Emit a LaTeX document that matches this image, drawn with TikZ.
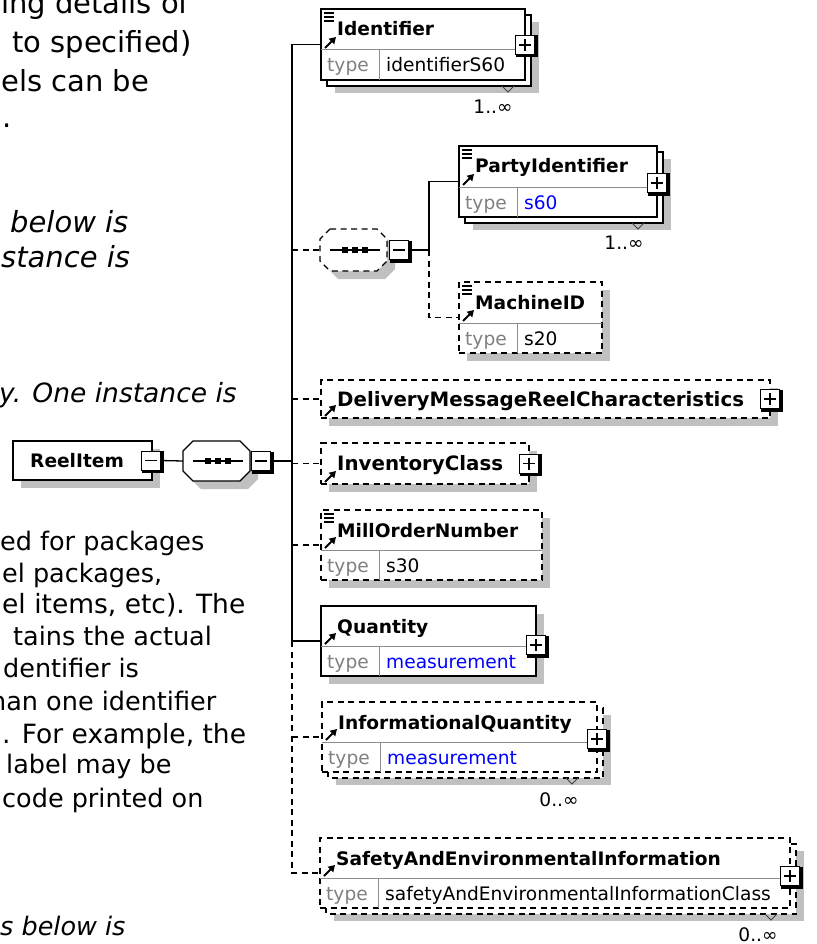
\documentclass[tikz,border=0pt]{standalone}
\usepackage{fontspec}
\setmainfont{DejaVu Sans}
\usetikzlibrary{arrows.meta,calc}
\definecolor{shadowgray}{RGB}{192,192,192}
\definecolor{divgray}{RGB}{140,140,140}
\definecolor{typegray}{RGB}{128,128,128}
\definecolor{valblue}{RGB}{0,0,255}
\newcommand{\dgfont}{\fontsize{18.6}{22}\selectfont}
\newcommand{\dgbold}{\fontsize{18.6}{22}\selectfont\bfseries}
\newcommand{\dgboldw}{\fontsize{19.8}{22}\selectfont\bfseries}
\newcommand{\ptA}{\fontsize{29}{34}\selectfont}
\newcommand{\ptB}{\fontsize{26.5}{30}\selectfont}
\newcommand{\ptC}{\fontsize{25.5}{30}\selectfont}
\tikzset{
  ebox/.style={draw=black, fill=white, line width=1.2pt, inner sep=0pt, outer sep=0pt},
  obox/.style={ebox, dash pattern=on 6pt off 4.5pt},
  conn/.style={line width=1.3pt},
  optc/.style={conn, dash pattern=on 6pt off 4.5pt},
  divl/.style={draw=divgray, line width=1pt},
  ttl/.style={font=\dgbold, anchor=base west, inner sep=0pt},
  tlab/.style={font=\dgfont, text=typegray, anchor=base west, inner sep=0pt},
  tval/.style={font=\dgfont, anchor=base west, inner sep=0pt},
  multl/.style={font=\dgfont, anchor=center, inner sep=0pt},
  ptxt/.style={anchor=base west, inner sep=0pt},
  pmb/.style={draw=black, fill=white, line width=1pt, minimum size=19pt, inner sep=0pt, outer sep=0pt},
  cmp/.style={minimum width=67pt, inner sep=0pt, outer sep=0pt},
  notchl/.style={draw=black!75, line width=0.9pt},
}
\newcommand{\PMbox}[3]{%
  \node[pmb] (#1) at (#2) {};
  \draw[line width=3pt] ($(#1.north east)+(1.5,0)$) -- ($(#1.south east)+(1.5,1.5)$) -- ($(#1.south west)+(0,1.5)$);
  \draw[line width=1.4pt] ($(#1.center)+(-6,0)$) -- ($(#1.center)+(6,0)$);
  \ifnum#3=1 \draw[line width=1.4pt] ($(#1.center)+(0,-6)$) -- ($(#1.center)+(0,6)$);\fi
}
\newcommand{\ElemBox}[7]{%
  \ifnum#7=1
    \fill[shadowgray] (#3+14,#4+13) rectangle ++(#5,#6);
    \draw[#2] (#3+6,#4+6) rectangle ++(#5,#6);
  \else
    \fill[shadowgray] (#3+8,#4+8) rectangle ++(#5,#6);
  \fi
  \node[#2, minimum width=#5, minimum height=#6, anchor=north west] (#1) at (#3,#4) {};
}
\newcommand{\DocIcon}[1]{%
  \foreach \dy in {4,8,12} \draw[line width=1.2pt] ($(#1.north west)+(3,\dy)$) -- ++(10,0);
}
\newcommand{\RefArrow}[2]{%
  \draw[line width=2pt, -{Triangle[length=6.5pt,width=7.5pt]}] ($(#1.north west)+(4,#2-2)$) -- ($(#1.north west)+(15,#2-13)$);
}
\newcommand{\TypeRow}[4]{%
  \draw[divl] ($(#1.north west)+(0,#2)$) -- ($(#1.north east)+(0,#2)$);
  \draw[divl] ($(#1.north west)+(58,#2)$) -- ($(#1.south west)+(58,0)$);
  \node[tlab] (#1ty) at ($(#1.south west)+(6,-8)$) {type};
  \node[tval, text=#4] (#1tv) at ($(#1.south west)+(65,-8)$) {#3};
}
\newcommand{\Notch}[2]{%
  \draw[notchl] ($(#1.south east)+(#2-6,6)$) -- ++(6,6) -- ++(6,-6);
}
\newcommand{\Octa}[4]{%
  \path[#2] ($(#1.north west)+(10+#3,#4)$) -- ($(#1.north east)+(-10+#3,#4)$) -- ($(#1.north east)+(#3,10+#4)$) -- ($(#1.south east)+(#3,-10+#4)$) -- ($(#1.south east)+(-10+#3,#4)$) -- ($(#1.south west)+(10+#3,#4)$) -- ($(#1.south west)+(#3,-10+#4)$) -- ($(#1.north west)+(#3,10+#4)$) -- cycle;
}
\newcommand{\SeqSym}[1]{%
  \draw[line width=1.3pt] ($(#1.center)+(-24,0)$) -- ($(#1.center)+(26,0)$);
  \foreach \sx in {-9,1,11} \fill ($(#1.center)+(\sx-3,-3)$) rectangle ++(6,6);
}
\begin{document}
\begin{tikzpicture}[x=1pt,y=-1pt]
\useasboundingbox (0,0) rectangle (816,944);
\clip (0,0) rectangle (816,944);

% ---------- left paragraph text ----------
\node[ptxt, font=\ptA] (p1) at (1,14) {ing details of};
\node[ptxt, font=\ptA] (p2) at (12,53) {to specified)};
\node[ptxt, font=\ptA] (p3) at (1,92) {els can be};
\node[ptxt, font=\ptA] (p4) at (2,128) {.};
\node[ptxt, font=\ptA\itshape] (p5) at (10,232) {below is};
\node[ptxt, font=\ptA\itshape] (p6) at (1,267) {stance is};
\node[ptxt, font=\ptB\itshape] (p7) at (-1,402) {y. One instance is};
\node[ptxt, font=\ptC] (p8) at (0,550) {ed for packages};
\node[ptxt, font=\ptC] (p9) at (2,582) {el packages,};
\node[ptxt, font=\ptB] (p10) at (2,613) {el items, etc). The};
\node[ptxt, font=\ptC] (p11) at (13,645) {tains the actual};
\node[ptxt, font=\ptC] (p12) at (3,677) {dentifier is};
\node[ptxt, font=\ptC] (p13) at (-10,710) {han one identifier};
\node[ptxt, font=\ptB] (p14) at (2,743) {. For example, the};
\node[ptxt, font=\ptC] (p15) at (6,773) {label may be};
\node[ptxt, font=\ptC] (p16) at (2,807) {code printed on};
\node[ptxt, font=\ptC\itshape] (p17) at (0,935) {s below is};

% ---------- ReelItem ----------
\fill[shadowgray] (21,449) rectangle ++(139,39);
\node[ebox, minimum width=139, minimum height=39, anchor=north west] (reel) at (13,441) {};
\node[ttl] (reelt) at (30,467) {ReelItem};
\PMbox{reelm}{$(reel.east)+(-1,0)$}{0}

% ---------- main sequence ----------
\node[cmp, minimum height=40pt] (seq) at (216.5,461) {};
\Octa{seq}{fill=shadowgray}{8}{8}
\Octa{seq}{draw=black, fill=white, line width=1.2pt}{0}{0}
\SeqSym{seq}
\PMbox{seqm}{$(seq.east)+(11,0)$}{0}
\draw[conn] (reelm.east) -- (seq.west);

% ---------- children ----------
\ElemBox{ident}{ebox}{321}{9}{204}{71}{1}
\DocIcon{ident}
\node[ttl] (identt) at ($(ident.north west)+(16,27)$) {Identifier};
\RefArrow{ident}{41}
\TypeRow{ident}{41}{identifierS60}{black}
\PMbox{identp}{$(ident.north east)+(0,36)$}{1}
\Notch{ident}{-17}
\node[multl] (identm) at ($(ident.south east)+(-32,27)$) {1..∞};

% nested sequence
\node[cmp, minimum height=42pt] (seqn) at (353.5,250) {};
\Octa{seqn}{fill=shadowgray}{8}{8}
\Octa{seqn}{draw=black, fill=white, line width=1.2pt, dash pattern=on 6pt off 4.5pt}{0}{0}
\SeqSym{seqn}
\PMbox{seqnm}{$(seqn.east)+(12,0)$}{0}

\ElemBox{party}{ebox}{459}{146}{198}{71}{1}
\DocIcon{party}
\node[ttl] (partyt) at ($(party.north west)+(16,27)$) {PartyIdentifier};
\RefArrow{party}{41}
\TypeRow{party}{41}{s60}{valblue}
\PMbox{partyp}{$(party.north east)+(0,37)$}{1}
\Notch{party}{-19}
\node[multl] (partym) at ($(party.south east)+(-33,26)$) {1..∞};

\ElemBox{machine}{obox}{459}{282}{143}{71}{0}
\DocIcon{machine}
\node[ttl] (machinet) at ($(machine.north west)+(16,27)$) {MachineID};
\RefArrow{machine}{41}
\TypeRow{machine}{41}{s20}{black}

\ElemBox{deliv}{obox}{321}{380}{449}{38}{0}
\node[ttl, font=\dgboldw] (delivt) at ($(deliv.west)+(16,7)$) {DeliveryMessageReelCharacteristics};
\RefArrow{deliv}{38}
\PMbox{delivp}{deliv.east}{1}

\ElemBox{inv}{obox}{321}{443}{208}{41}{0}
\node[ttl, font=\dgboldw] (invt) at ($(inv.west)+(16,7)$) {InventoryClass};
\RefArrow{inv}{41}
\PMbox{invp}{inv.east}{1}

\ElemBox{mill}{obox}{321}{510}{221}{70}{0}
\DocIcon{mill}
\node[ttl] (millt) at ($(mill.north west)+(16,27)$) {MillOrderNumber};
\RefArrow{mill}{40}
\TypeRow{mill}{40}{s30}{black}

\ElemBox{qty}{ebox}{321}{606}{215}{70}{0}
\node[ttl] (qtyt) at ($(qty.north west)+(16,27)$) {Quantity};
\RefArrow{qty}{40}
\TypeRow{qty}{40}{measurement}{valblue}
\PMbox{qtyp}{$(qty.north east)+(0,39)$}{1}

\ElemBox{infoq}{obox}{322}{702}{275}{70}{1}
\node[ttl] (infoqt) at ($(infoq.north west)+(16,27)$) {InformationalQuantity};
\RefArrow{infoq}{40}
\TypeRow{infoq}{40}{measurement}{valblue}
\PMbox{infoqp}{$(infoq.north east)+(0,37)$}{1}
\Notch{infoq}{-25}
\node[multl] (infoqm) at ($(infoq.south east)+(-38,28)$) {0..∞};

\ElemBox{safety}{obox}{320}{838}{470}{70}{1}
\node[ttl] (safetyt) at ($(safety.north west)+(16,27)$) {SafetyAndEnvironmentalInformation};
\RefArrow{safety}{40}
\TypeRow{safety}{40}{safetyAndEnvironmentalInformationClass}{black}
\PMbox{safetyp}{$(safety.north east)+(0,38)$}{1}
\Notch{safety}{-19}
\node[multl] (safetym) at ($(safety.south east)+(-32,27)$) {0..∞};

% ---------- connectors ----------
\coordinate (tx) at (292,0);
\draw[conn] (seqm.east) -- (tx |- seqm.east);
\draw[conn] (ident.west) -| (tx |- qty.west) -- (qty.west);
\draw[optc] (tx |- qty.west) |- (safety.west);
\draw[optc] (tx |- seqn.west) -- (seqn.west);
\draw[optc] (tx |- deliv.west) -- (deliv.west);
\draw[optc] (tx |- inv.west) -- (inv.west);
\draw[optc] (tx |- mill.west) -- (mill.west);
\draw[optc] (tx |- infoq.west) -- (infoq.west);

\coordinate (nx) at (429,0);
\draw[conn] (seqnm.east) -- (nx |- seqnm.east) |- (party.west);
\draw[optc] (nx |- seqnm.east) |- (machine.west);
\end{tikzpicture}
\end{document}
